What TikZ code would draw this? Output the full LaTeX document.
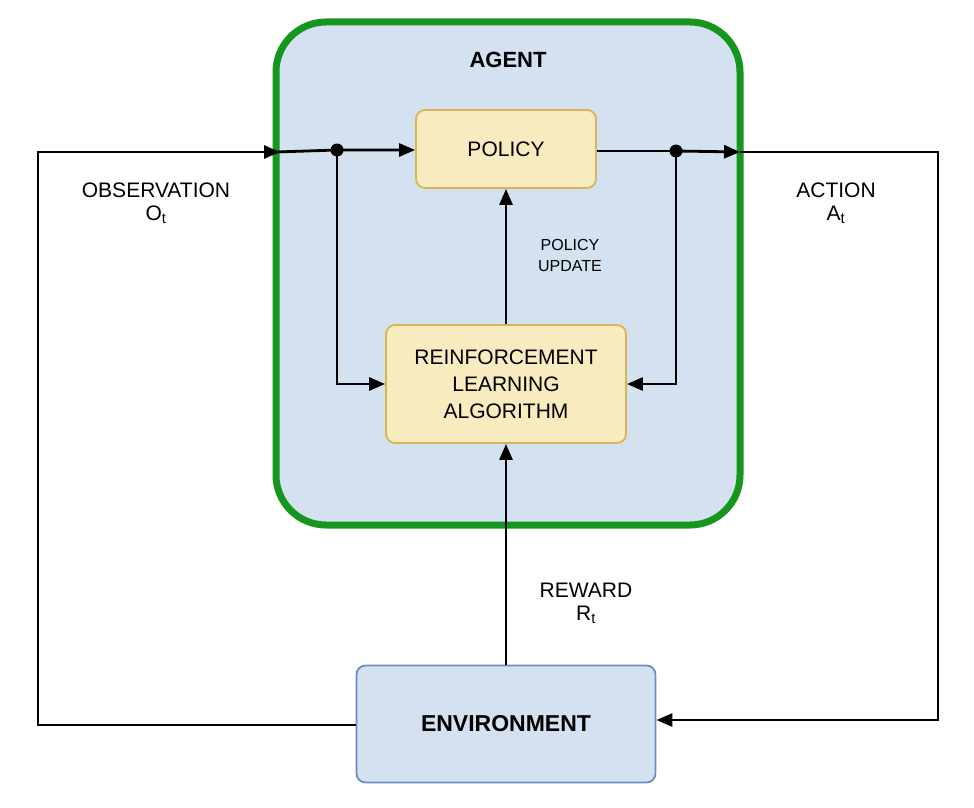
\documentclass[tikz,border=0pt]{standalone}
\usepackage{fontspec}
\setmainfont{Liberation Sans}
\usetikzlibrary{arrows.meta}
\definecolor{agentfill}{HTML}{D4E1F1}
\definecolor{agentedge}{HTML}{16961E}
\definecolor{yfill}{HTML}{F8EBC0}
\definecolor{yedge}{HTML}{D6B656}
\definecolor{bedge}{HTML}{6C8EBF}
\begin{document}
\begin{tikzpicture}[x=1pt,y=-1pt,
  box/.style={draw=yedge,fill=yfill,line width=1.8pt,rounded corners=9pt,align=center,inner sep=0pt,font=\fontsize{21}{25}\selectfont},
  conn/.style={line width=2.8pt,-{Triangle[length=16pt,width=13pt]}},
  ln/.style={line width=2.8pt},
  lab/.style={align=center,font=\fontsize{21}{23}\selectfont}]
\useasboundingbox (0,0) rectangle (974,808);
\fill[white] (0,0) rectangle (974,808);
\draw[draw=agentedge,fill=agentfill,line width=7pt,rounded corners=50pt] (276,22) rectangle (740,525);
\node[font=\bfseries\fontsize{22}{24}\selectfont] (agent) at (508,60) {AGENT};
\node[box,minimum width=180pt,minimum height=78pt] (policy) at (506,149) {POLICY};
\node[box,minimum width=240pt,minimum height=118pt] (rl) at (506,384) {REINFORCEMENT\\[2pt]LEARNING\\[2pt]ALGORITHM};
\node[box,draw=bedge,fill=agentfill,minimum width=299pt,minimum height=117pt,font=\bfseries\fontsize{23}{25}\selectfont] (env) at (506,724) {ENVIRONMENT};
\coordinate (d1) at (337,150);
\coordinate (d2) at (676,151);
\coordinate (el) at (38,152);
\coordinate (er) at (938,152);
\fill (d1) circle (6.5pt);
\fill (d2) circle (6.5pt);
\draw[ln] (env.west |- 0,725) -| (el) -- (276,152);
\draw[conn] (el) -- (280,152);
\draw[conn] (276,152) -- (d1) -- (policy.west |- d1);
\draw[conn] (d1) |- (rl.west);
\draw[ln] (policy.east |- d2) -- (d2);
\draw[conn] (d2) -- (740,152);
\draw[conn] (740,152) -- (er) |- (env.east |- 0,720);
\draw[conn] (d2) |- (rl.east);
\draw[conn] (rl.north) -- (policy.south);
\draw[conn] (env.north) -- (rl.south);
\node[lab,font=\fontsize{16}{21}\selectfont] (pu) at (570,255) {POLICY\\UPDATE};
\node[lab] (rw) at (586,603) {REWARD\\R\textsubscript{t}};
\node[lab] (ob) at (156,203) {OBSERVATION\\O\textsubscript{t}};
\node[lab] (ac) at (836,203) {ACTION\\A\textsubscript{t}};
\end{tikzpicture}
\end{document}
